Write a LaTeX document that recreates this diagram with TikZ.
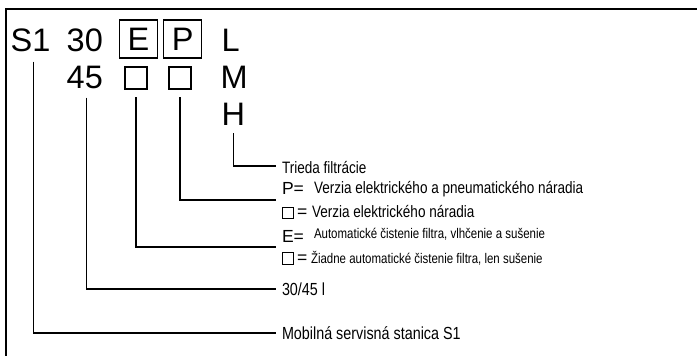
\documentclass[tikz,border=0pt]{standalone}
\usepackage{fontspec}
\setmainfont{Liberation Sans}
\newfontfamily\narrowfont{Liberation Sans}[FakeStretch=0.82]
\usetikzlibrary{positioning, calc}

\newcommand\blanksq{{\setlength{\fboxsep}{0pt}\setlength{\fboxrule}{0.8pt}\fbox{\rule{0pt}{10.5pt}\hspace{10.5pt}}}}
\newcommand\legkey[2]{\makebox[#1][l]{\rmfamily\fontsize{17.5}{17.5}\selectfont #2}}

\begin{document}
\begin{tikzpicture}[
  x=1pt, y=-1pt,
  code/.style={inner sep=0pt, anchor=base west, font=\fontsize{32.5}{32.5}\selectfont},
  codebox/.style={
    draw, line width=1.2pt, minimum width=38pt, minimum height=38pt,
    inner sep=0pt, font=\fontsize{32.5}{32.5}\selectfont
  },
  emptybox/.style={draw, line width=1.1pt, minimum size=22pt, inner sep=0pt},
  legend/.style={
    inner sep=0pt, outer xsep=6pt, anchor=west, align=left,
    font=\narrowfont\fontsize{16.5}{23}\selectfont
  },
  smalllegend/.style={legend, font=\narrowfont\fontsize{14}{21}\selectfont},
  biglegend/.style={legend, font=\narrowfont\fontsize{17.5}{23}\selectfont},
  conn/.style={line width=1.3pt},
  frame/.style={line width=1.2pt},
]
\useasboundingbox (0,0) rectangle (697,356);
\draw[frame] (697,9) -- (6,9) -- (6,356);

% type code
\node[code] (s1) at (10.5,52) {S1};
\node[code] (c30) at (66.5,52) {30};
\node[codebox] (ebox) at (138.5,39) {E};
\node[codebox, right=5pt of ebox] (pbox) {P};
\node[code] (cl) at (221.5,52) {L};

\node[code] (c45) at (66.5,88) {45};
\node[emptybox] (enone) at (136,78) {};
\node[emptybox] (pnone) at (180,78) {};
\node[code] (cm) at (220.5,88) {M};
\node[code] (ch) at (221.5,125) {H};

% legend
\node[legend] (lH) at (276,168) {Trieda filtrácie};
\node[legend] (lP) at (276,200) {%
  \legkey{32pt}{P=}\raisebox{1.5pt}{Verzia elektrického a pneumatického náradia}\\
  \legkey{30pt}{\blanksq\,=}Verzia elektrického náradia};
\node[smalllegend] (lE) at (276,247) {%
  \legkey{32pt}{E=}\raisebox{4pt}{Automatické čistenie filtra, vlhčenie a sušenie}\\
  \legkey{29pt}{\blanksq\,=}Žiadne automatické čistenie filtra, len sušenie};
\node[biglegend] (l45) at (276,289) {30/45 l};
\node[biglegend] (lS1) at (276,333) {Mobilná servisná stanica S1};

\draw[conn] ([shift={(3pt,-9pt)}]s1.south) |- (lS1.west);
\draw[conn] ([shift={(1.5pt,-9pt)}]c45.south) |- (l45.west);
\draw[conn] ([yshift=-7.5pt]enone.south) |- (lE.west);
\draw[conn] ([yshift=-7.5pt]pnone.south) |- (lP.west);
\draw[conn] ([yshift=-8pt]ch.south) |- ([yshift=2pt]lH.west);

\end{tikzpicture}
\end{document}
